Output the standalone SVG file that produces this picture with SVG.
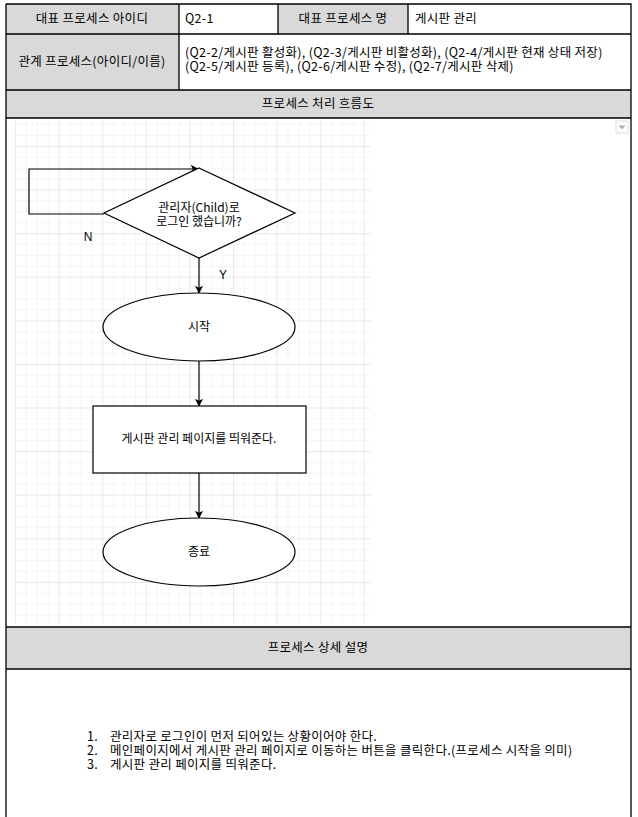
<svg xmlns="http://www.w3.org/2000/svg" width="638" height="817" viewBox="0 0 638 817">
<style>
.t{font-family:"Noto Sans CJK KR","Liberation Sans",sans-serif;font-size:12.5px;letter-spacing:0.3px;fill:#000}
.f{font-family:"Noto Sans CJK KR","Liberation Sans",sans-serif;font-size:12px;fill:#000}
.c{text-anchor:middle}
.l{font-family:"Liberation Sans","Noto Sans CJK KR",sans-serif;font-size:12px;fill:#000}
.hd{fill:#d9d9d9}
.bd{stroke:#000;stroke-width:1.3;fill:none}
.shape{fill:#fff;stroke:#000;stroke-width:1.2}
.conn{stroke:#000;stroke-width:1.2;fill:none;marker-end:url(#arr)}
</style>
<defs>
<marker id="arr" viewBox="0 0 10 10" refX="9" refY="5" markerWidth="8" markerHeight="8" markerUnits="userSpaceOnUse" orient="auto">
<path d="M0,0 L10,5 L0,10 L2.5,5 Z" fill="#000"/>
</marker>
<pattern id="grid" patternUnits="userSpaceOnUse" x="15" y="124" width="10.9" height="10.9">
<path d="M0,0 H10.9 M0,0 V10.9" stroke="#ececec" stroke-width="1" fill="none"/>
</pattern>
<pattern id="gridM" patternUnits="userSpaceOnUse" x="15" y="146" width="43.6" height="43.6">
<path d="M0,0 H43.6 M0,0 V43.6" stroke="#e0e0e0" stroke-width="1" fill="none"/>
</pattern>
</defs>
<rect width="638" height="817" fill="#fff"/>

<g id="table">
<rect class="hd" x="6" y="4" width="173" height="30"/>
<rect class="hd" x="278" y="4" width="130" height="30"/>
<rect class="hd" x="6" y="34" width="173" height="56"/>
<rect class="hd" x="6" y="90" width="625" height="28"/>
<rect class="hd" x="6" y="627" width="625" height="42"/>
<path class="bd" d="M6,4 H631 V817 M6,4 V817 M6,34 H631 M6,90 H631 M6,118 H631 M6,627 H631 M6,669 H631 M179,4 V90 M278,4 V34 M408,4 V34"/>
<text class="t c" x="92" y="23">대표 프로세스 아이디</text>
<text class="t" x="185" y="23">Q2-1</text>
<text class="t c" x="343" y="23">대표 프로세스 명</text>
<text class="t" x="415" y="23">게시판 관리</text>
<text class="t c" x="92" y="66">관계 프로세스(아이디/이름)</text>
<text class="t"><tspan x="185" y="57">(Q2-2/게시판 활성화), (Q2-3/게시판 비활성화), (Q2-4/게시판 현재 상태 저장)</tspan><tspan x="185" y="71">(Q2-5/게시판 등록), (Q2-6/게시판 수정), (Q2-7/게시판 삭제)</tspan></text>
<text class="t c" x="318" y="108">프로세스 처리 흐름도</text>
<text class="t c" x="318" y="652">프로세스 상세 설명</text>
<text class="t"><tspan x="87" y="741">1.</tspan><tspan x="110" y="741">관리자로 로그인이 먼저 되어있는 상황이어야 한다.</tspan><tspan x="87" y="755">2.</tspan><tspan x="110" y="755">메인페이지에서 게시판 관리 페이지로 이동하는 버튼을 클릭한다.(프로세스 시작을 의미)</tspan><tspan x="87" y="769">3.</tspan><tspan x="110" y="769">게시판 관리 페이지를 띄워준다.</tspan></text>
</g>

<g id="canvas">
<rect x="15" y="121" width="356" height="502" fill="url(#grid)"/>
<rect x="15" y="121" width="356" height="502" fill="url(#gridM)"/>
<rect x="616" y="121" width="12" height="12" fill="#fff" stroke="#dcdcdc" stroke-width="1"/>
<path d="M618.5,125.5 L625.5,125.5 L622,129.5 Z" fill="#b0b0b0"/>
</g>

<g id="connectors">
<path class="conn" d="M104,214 H29 V169 H198"/>
<path class="conn" d="M199,258 V293"/>
<path class="conn" d="M199,361 V406"/>
<path class="conn" d="M199,473 V518"/>
<text class="l c" x="88" y="241">N</text>
<text class="l c" x="223" y="279">Y</text>
</g>

<g id="decision">
<polygon class="shape" points="199,168 295,213 199,258 104,213"/>
<text class="f c"><tspan x="199" y="212">관리자(Child)로</tspan><tspan x="199" y="226">로그인 했습니까?</tspan></text>
</g>
<g id="start">
<ellipse class="shape" cx="199" cy="327" rx="96" ry="34"/>
<text class="f c" x="199" y="331">시작</text>
</g>
<g id="process">
<rect class="shape" x="93" y="406" width="213" height="67"/>
<text class="f c" x="199" y="443">게시판 관리 페이지를 띄워준다.</text>
</g>
<g id="end">
<ellipse class="shape" cx="199" cy="552" rx="96" ry="34"/>
<text class="f c" x="199" y="556">종료</text>
</g>
</svg>
